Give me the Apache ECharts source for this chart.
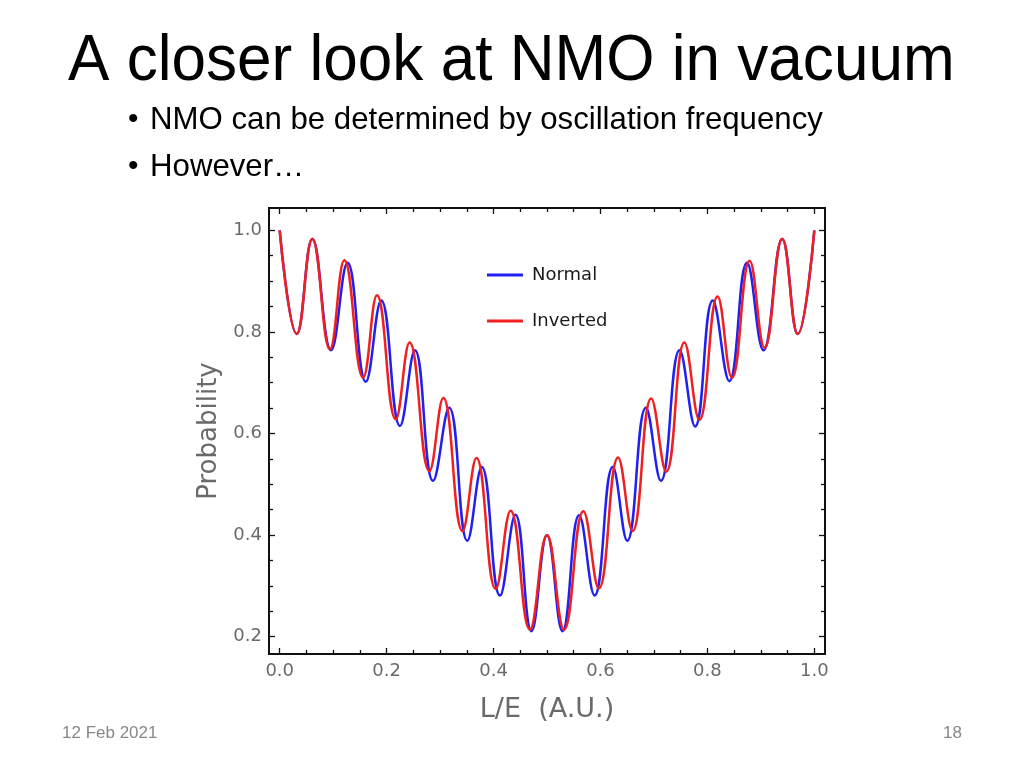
<!DOCTYPE html>
<html><head><meta charset="utf-8">
<script src="https://cdn.jsdelivr.net/npm/echarts@6/dist/echarts.min.js"></script>
<style>html,body{margin:0;padding:0;background:#fff}#c{width:1024px;height:768px}</style>
</head><body><div id="c"></div>
<script>
// ---- data (extrema of each curve) ----
const seriesNames = ['Normal', 'Inverted'];
const normalX = [0, 0.032, 0.061, 0.096, 0.127, 0.161, 0.190, 0.225, 0.253, 0.287, 0.317, 0.351, 0.378, 0.412, 0.441, 0.471, 0.500, 0.529, 0.560, 0.589, 0.623, 0.650, 0.685, 0.713, 0.748, 0.777, 0.810, 0.841, 0.874, 0.905, 0.940, 0.969, 1.0];
const normalY = [1.0, 0.796, 0.983, 0.764, 0.936, 0.702, 0.862, 0.615, 0.764, 0.507, 0.651, 0.389, 0.534, 0.281, 0.440, 0.211, 0.400, 0.211, 0.439, 0.281, 0.534, 0.389, 0.651, 0.507, 0.764, 0.614, 0.862, 0.703, 0.936, 0.764, 0.983, 0.796, 1.0];
const invertedX = [0, 0.032, 0.061, 0.094, 0.121, 0.156, 0.182, 0.217, 0.243, 0.280, 0.306, 0.342, 0.368, 0.404, 0.432, 0.468, 0.500, 0.532, 0.568, 0.597, 0.633, 0.660, 0.695, 0.723, 0.757, 0.785, 0.819, 0.846, 0.879, 0.907, 0.940, 0.969, 1.0];
const invertedY = [1.0, 0.796, 0.983, 0.766, 0.941, 0.710, 0.872, 0.628, 0.779, 0.526, 0.670, 0.408, 0.552, 0.294, 0.448, 0.214, 0.400, 0.214, 0.447, 0.295, 0.553, 0.408, 0.669, 0.525, 0.779, 0.627, 0.870, 0.710, 0.940, 0.769, 0.983, 0.796, 1.0];
const xMajorTicks = [0, 0.2, 0.4, 0.6, 0.8, 1.0];
const xMinorTicks = [0.05, 0.1, 0.15, 0.25, 0.3, 0.35, 0.45, 0.5, 0.55, 0.65, 0.7, 0.75, 0.85, 0.9, 0.95];
const yMajorTicks = [0.2, 0.4, 0.6, 0.8, 1.0];
const yMinorTicks = [0.25, 0.3, 0.35, 0.45, 0.5, 0.55, 0.65, 0.7, 0.75, 0.85, 0.9, 0.95];
const xRange = [-0.02, 1.02];
const yRange = [0.166, 1.044];
const titleText = 'A closer look at NMO in vacuum';
const bullets = ['NMO can be determined by oscillation frequency', 'However\u2026'];
const footerDate = '12 Feb 2021';
const footerPage = '18';

function pairs(xs, ys) { return xs.map((x, i) => [x, ys[i]]); }

const LF = 'DejaVu Sans';
const labelColor = '#6a6a6a';

function makeX(pos, ticks, len, showLabel) {
  return {
    type: 'value', gridIndex: 0, position: pos, min: xRange[0], max: xRange[1],
    axisLine: { show: false, onZero: false },
    splitLine: { show: false },
    axisTick: { show: true, inside: true, length: len, customValues: ticks, lineStyle: { color: '#111', width: 1.3 } },
    axisLabel: showLabel ? { show: true, customValues: ticks, formatter: v => v.toFixed(1), margin: 8, fontFamily: LF, fontSize: 18, color: labelColor } : { show: false },
    name: showLabel ? 'L/E  (A.U.)' : '',
    nameLocation: 'middle', nameGap: 42,
    nameTextStyle: { fontFamily: LF, fontSize: 27, color: labelColor }
  };
}
function makeY(pos, ticks, len, showLabel) {
  return {
    type: 'value', gridIndex: 0, position: pos, min: yRange[0], max: yRange[1],
    axisLine: { show: false, onZero: false },
    splitLine: { show: false },
    axisTick: { show: true, inside: true, length: len, customValues: ticks, lineStyle: { color: '#111', width: 1.3 } },
    axisLabel: showLabel ? { show: true, customValues: ticks, formatter: v => v.toFixed(1), margin: 7, fontFamily: LF, fontSize: 18, color: labelColor } : { show: false },
    name: showLabel ? 'Probability' : '',
    nameLocation: 'middle', nameGap: 45, nameRotate: 90,
    nameTextStyle: { fontFamily: LF, fontSize: 26, color: labelColor }
  };
}

const chart = echarts.init(document.getElementById('c'), null, { renderer: 'canvas' });
chart.setOption({
  animation: false,
  backgroundColor: '#fff',
  grid: { left: 269, top: 208, width: 556, height: 446, show: true, borderColor: '#111', borderWidth: 2, backgroundColor: 'transparent', containLabel: false, outerBoundsMode: 'none' },
  xAxis: [
    makeX('bottom', xMajorTicks, 6, true),
    makeX('bottom', xMinorTicks, 4, false),
    makeX('top', xMajorTicks, 6, false),
    makeX('top', xMinorTicks, 4, false)
  ],
  yAxis: [
    makeY('left', yMajorTicks, 6, true),
    makeY('left', yMinorTicks, 4, false),
    makeY('right', yMajorTicks, 6, false),
    makeY('right', yMinorTicks, 4, false)
  ],
  legend: {
    data: seriesNames, orient: 'vertical', left: 487, top: 265, padding: 0,
    icon: 'rect', itemWidth: 36, itemHeight: 3, itemGap: 26,
    textStyle: { fontFamily: LF, fontSize: 18, color: '#1a1a1a', lineHeight: 20, padding: [0, 0, 0, 4] }
  },
  series: [
    { name: seriesNames[0], type: 'line', xAxisIndex: 0, yAxisIndex: 0, data: pairs(normalX, normalY), showSymbol: false, smooth: 0.45, color: '#2020f0', lineStyle: { width: 2.5, color: '#2020f0' }, silent: true },
    { name: seriesNames[1], type: 'line', xAxisIndex: 0, yAxisIndex: 0, data: pairs(invertedX, invertedY), showSymbol: false, smooth: 0.45, color: '#f02020', lineStyle: { width: 2.5, color: '#f02020' }, silent: true }
  ],
  graphic: [
    { type: 'text', x: 68, y: 62, scaleX: 0.97, style: { text: titleText, font: '64px "Liberation Sans"', fill: '#000', textVerticalAlign: 'middle' } },
    { type: 'text', x: 128, y: 120, style: { text: '\u2022', font: '30px "Liberation Sans"', fill: '#000', textVerticalAlign: 'middle' } },
    { type: 'text', x: 150, y: 120, scaleX: 0.975, style: { text: bullets[0], font: '32px "Liberation Sans"', fill: '#000', textVerticalAlign: 'middle' } },
    { type: 'text', x: 128, y: 167, style: { text: '\u2022', font: '30px "Liberation Sans"', fill: '#000', textVerticalAlign: 'middle' } },
    { type: 'text', x: 150, y: 167, scaleX: 0.975, style: { text: bullets[1], font: '32px "Liberation Sans"', fill: '#000', textVerticalAlign: 'middle' } },
    { type: 'text', x: 62, y: 733, style: { text: footerDate, font: '17px "Liberation Sans"', fill: '#888', textVerticalAlign: 'middle' } },
    { type: 'text', x: 962, y: 733, style: { text: footerPage, font: '17px "Liberation Sans"', fill: '#888', textVerticalAlign: 'middle', textAlign: 'right' } }
  ]
});
</script>
</body></html>
